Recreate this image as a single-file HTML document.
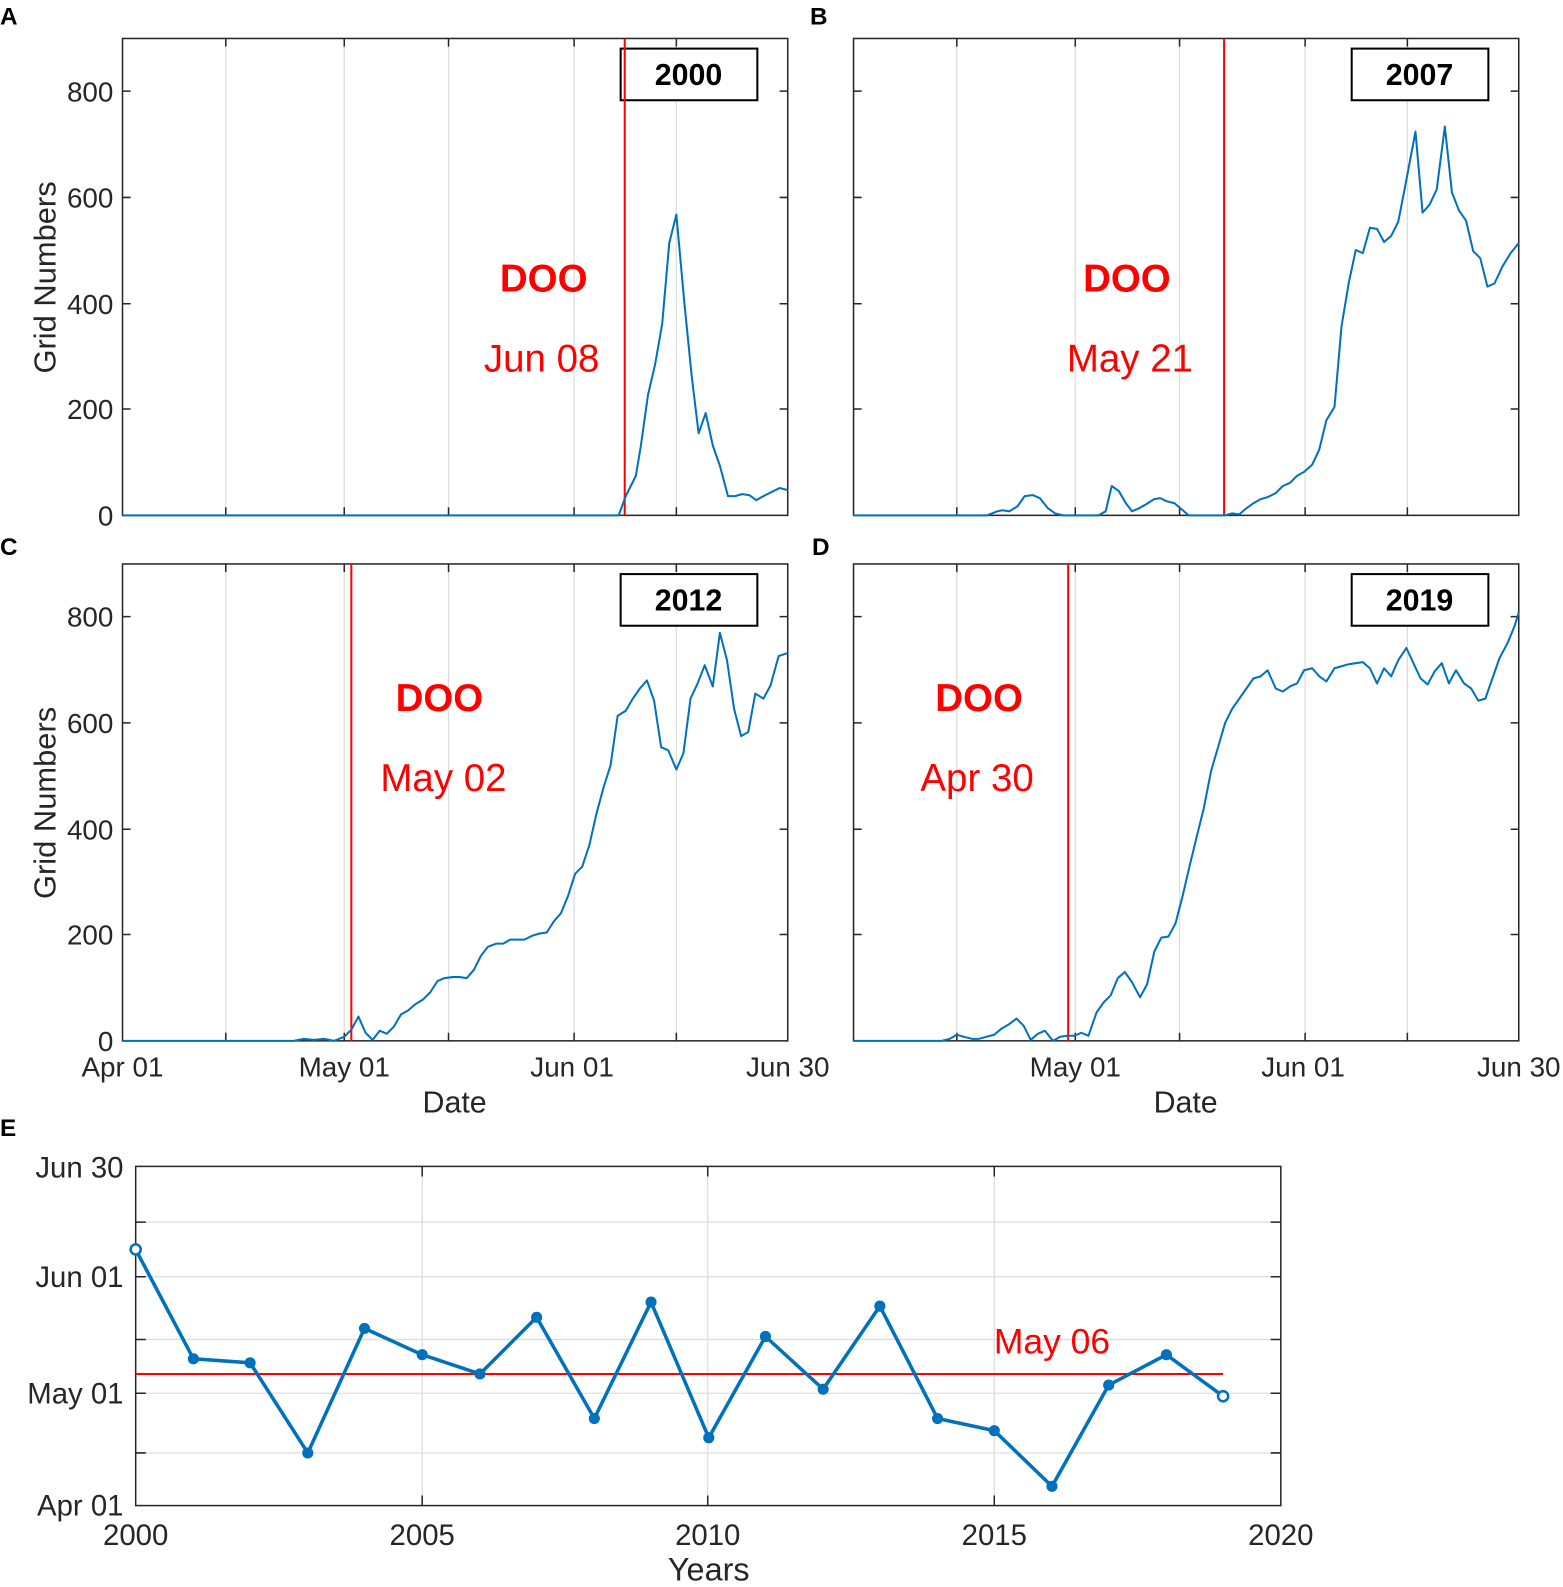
<!DOCTYPE html>
<html><head><meta charset="utf-8"><style>html,body{margin:0;padding:0;background:#fff;overflow:hidden;width:1563px;height:1587px}svg{display:block}</style></head><body>
<svg width="1563" height="1587" viewBox="0 0 1563 1587" xmlns="http://www.w3.org/2000/svg" font-family="Liberation Sans, Arial, sans-serif">
<g transform="scale(1.0125)">
<g stroke="#dcdcdc" stroke-width="1.2">
<line x1="223" y1="38" x2="223" y2="509"/><line x1="340" y1="38" x2="340" y2="509"/><line x1="443" y1="38" x2="443" y2="509"/><line x1="567" y1="38" x2="567" y2="509"/><line x1="668" y1="38" x2="668" y2="509"/>
<line x1="945" y1="38" x2="945" y2="509"/><line x1="1062" y1="38" x2="1062" y2="509"/><line x1="1165" y1="38" x2="1165" y2="509"/><line x1="1289" y1="38" x2="1289" y2="509"/><line x1="1390" y1="38" x2="1390" y2="509"/>
<line x1="223" y1="557" x2="223" y2="1028"/><line x1="340" y1="557" x2="340" y2="1028"/><line x1="443" y1="557" x2="443" y2="1028"/><line x1="567" y1="557" x2="567" y2="1028"/><line x1="668" y1="557" x2="668" y2="1028"/>
<line x1="945" y1="557" x2="945" y2="1028"/><line x1="1062" y1="557" x2="1062" y2="1028"/><line x1="1165" y1="557" x2="1165" y2="1028"/><line x1="1289" y1="557" x2="1289" y2="1028"/><line x1="1390" y1="557" x2="1390" y2="1028"/>
<line x1="417" y1="1152" x2="417" y2="1487"/><line x1="699" y1="1152" x2="699" y2="1487"/><line x1="982" y1="1152" x2="982" y2="1487"/>
<line x1="134" y1="1207" x2="1265" y2="1207"/><line x1="134" y1="1261" x2="1265" y2="1261"/><line x1="134" y1="1323" x2="1265" y2="1323"/><line x1="134" y1="1376" x2="1265" y2="1376"/><line x1="134" y1="1435" x2="1265" y2="1435"/>
</g>
<g fill="none" stroke="#262626" stroke-width="1.5">
<rect x="121" y="38" width="657" height="471"/><rect x="843" y="38" width="657" height="471"/>
<rect x="121" y="557" width="657" height="471"/><rect x="843" y="557" width="657" height="471"/>
<rect x="134" y="1152" width="1131" height="335"/>
<path d="M121 90h8M121 195h8M121 300h8M121 404h8M770 90h8M770 195h8M770 300h8M770 404h8M843 90h8M843 195h8M843 300h8M843 404h8M1492 90h8M1492 195h8M1492 300h8M1492 404h8"/>
<path d="M121 609h8M121 714h8M121 819h8M121 923h8M770 609h8M770 714h8M770 819h8M770 923h8M843 609h8M843 714h8M843 819h8M843 923h8M1492 609h8M1492 714h8M1492 819h8M1492 923h8"/>
<path d="M223 38v8M340 38v8M443 38v8M567 38v8M668 38v8M223 509v-8M340 509v-8M443 509v-8M567 509v-8M668 509v-8"/>
<path d="M945 38v8M1062 38v8M1165 38v8M1289 38v8M1390 38v8M945 509v-8M1062 509v-8M1165 509v-8M1289 509v-8M1390 509v-8"/>
<path d="M223 557v8M340 557v8M443 557v8M567 557v8M668 557v8M223 1028v-8M340 1028v-8M443 1028v-8M567 1028v-8M668 1028v-8"/>
<path d="M945 557v8M1062 557v8M1165 557v8M1289 557v8M1390 557v8M945 1028v-8M1062 1028v-8M1165 1028v-8M1289 1028v-8M1390 1028v-8"/>
<path d="M134 1207h10M134 1261h10M134 1323h10M134 1376h10M134 1435h10M1265 1207h-10M1265 1261h-10M1265 1323h-10M1265 1376h-10M1265 1435h-10M417 1487v-10M699 1487v-10M982 1487v-10M417 1152v10M699 1152v10M982 1152v10"/>
</g>
<g fill="#fff" stroke="#000" stroke-width="2"><rect x="613" y="48" width="135" height="51"/><rect x="1335" y="48" width="135" height="51"/><rect x="613" y="567" width="135" height="51"/><rect x="1335" y="567" width="135" height="51"/></g>
<g font-weight="bold" font-size="30" text-anchor="middle"><text x="680" y="84">2000</text><text x="1402" y="84">2007</text><text x="680" y="603">2012</text><text x="1402" y="603">2019</text></g>
<g font-weight="bold" font-size="24"><text x="0" y="24">A</text><text x="800" y="24">B</text><text x="0" y="548">C</text><text x="802" y="548">D</text><text x="0" y="1122">E</text></g>
<g font-size="27.5" fill="#262626" text-anchor="end">
<text x="112" y="100">800</text><text x="112" y="205">600</text><text x="112" y="310">400</text><text x="112" y="414">200</text><text x="112" y="519">0</text>
<text x="112" y="619">800</text><text x="112" y="724">600</text><text x="112" y="829">400</text><text x="112" y="933">200</text><text x="112" y="1038">0</text>
</g>
<g font-size="29" fill="#262626" text-anchor="end">
<text x="122" y="1163">Jun 30</text><text x="122" y="1271">Jun 01</text><text x="122" y="1386">May 01</text><text x="122" y="1497">Apr 01</text>
</g>
<g font-size="27.5" fill="#262626" text-anchor="middle">
<text x="121" y="1063">Apr 01</text><text x="340" y="1063">May 01</text><text x="565" y="1063">Jun 01</text><text x="778" y="1063">Jun 30</text>
<text x="1062" y="1063">May 01</text><text x="1287" y="1063">Jun 01</text><text x="1500" y="1063">Jun 30</text>
<text x="449" y="1099" font-size="30">Date</text><text x="1171" y="1099" font-size="30">Date</text>
<text transform="translate(55,274) rotate(-90)" font-size="30.5">Grid Numbers</text>
<text transform="translate(55,793) rotate(-90)" font-size="30.5">Grid Numbers</text>
</g>
<g font-size="29" fill="#262626" text-anchor="middle">
<text x="134" y="1526">2000</text><text x="417" y="1526">2005</text><text x="699" y="1526">2010</text><text x="982" y="1526">2015</text><text x="1265" y="1526">2020</text>
<text x="700" y="1561" font-size="32">Years</text>
</g>
<g fill="#ff0000" text-anchor="middle">
<text x="537" y="288" font-size="38" font-weight="bold">DOO</text><text x="535" y="367" font-size="38">Jun 08</text>
<text x="1113" y="288" font-size="38" font-weight="bold">DOO</text><text x="1116" y="367" font-size="38">May 21</text>
<text x="434" y="702" font-size="38" font-weight="bold">DOO</text><text x="438" y="781" font-size="38">May 02</text>
<text x="967" y="702" font-size="38" font-weight="bold">DOO</text><text x="965" y="781" font-size="38">Apr 30</text>
<text x="1039" y="1337" font-size="35">May 06</text>
</g>
<g stroke="#ff0000" stroke-width="2"><line x1="617" y1="38" x2="617" y2="509"/><line x1="1209" y1="38" x2="1209" y2="509"/><line x1="347" y1="557" x2="347" y2="1028"/><line x1="1055" y1="557" x2="1055" y2="1028"/><line x1="134" y1="1357" x2="1208" y2="1357"/></g>
<g fill="none" stroke="#0072bd" stroke-width="2" stroke-linejoin="round">
<polyline points="121,509 611,509 618,490 628,470 633,440 640,390 647,360 654,320 661,240 668,212 676,300 683,370 690,428 697,408 704,440 711,460 719,490 726,490 733,488 740,489 747,494 754,490 762,486 770,482 778,484"/>
<polyline points="843,509 975,509 985,505 990,504 997,505 1005,500 1012,490 1020,489 1027,492 1035,502 1042,507 1050,509 1085,509 1092,505 1098,480 1105,485 1112,497 1118,505 1125,502 1132,498 1140,493 1146,492 1152,495 1160,497 1167,503 1174,509 1210,509 1217,507 1224,508 1231,502 1238,497 1245,493 1252,491 1260,487 1267,480 1274,477 1281,470 1288,466 1296,459 1303,444 1310,415 1318,402 1325,322 1332,280 1339,247 1346,250 1353,225 1360,226 1367,239 1374,233 1381,219 1388,183 1398,130 1405,210 1412,202 1419,187 1427,125 1434,190 1441,208 1448,218 1455,248 1462,255 1469,283 1476,280 1484,263 1492,250 1500,240"/>
<polyline points="121,1028 290,1028 300,1026 310,1027 320,1026 330,1028 340,1024 347,1017 354,1004 361,1020 368,1027 375,1018 382,1021 389,1014 396,1002 403,998 410,992 418,987 425,980 432,969 439,966 447,965 454,965 461,966 468,958 475,944 482,935 490,932 497,932 504,928 511,928 518,928 526,924 533,922 540,921 547,910 554,902 561,885 568,863 575,856 582,835 589,804 596,778 603,756 610,707 618,702 625,690 632,680 639,672 646,692 653,738 660,741 668,760 675,744 682,690 689,675 696,657 704,678 711,625 718,652 725,700 732,727 739,723 746,685 754,690 761,677 769,648 778,645"/>
<polyline points="843,1028 930,1028 938,1026 945,1022 952,1024 960,1026 967,1026 974,1024 982,1022 989,1016 996,1012 1004,1006 1011,1013 1018,1027 1025,1021 1032,1018 1040,1028 1047,1024 1054,1023 1061,1023 1068,1020 1075,1023 1083,1000 1090,990 1097,983 1104,966 1111,960 1118,970 1126,985 1133,972 1140,940 1147,926 1154,925 1161,912 1168,885 1175,855 1182,826 1189,798 1196,762 1203,738 1210,714 1217,700 1224,690 1231,680 1238,670 1245,668 1252,662 1260,680 1267,683 1274,678 1281,675 1288,662 1296,660 1303,668 1310,673 1318,660 1325,658 1332,656 1339,655 1346,654 1353,660 1360,675 1367,660 1374,668 1381,652 1389,640 1396,655 1403,670 1410,676 1417,663 1424,655 1431,675 1438,662 1446,675 1453,680 1460,692 1467,690 1474,670 1481,650 1489,635 1496,618 1500,605"/>
<polyline stroke-width="3.5" points="134,1234 191,1342 247,1346 304,1435 360,1312 417,1338 474,1357 530,1301 587,1401 643,1286 700,1420 756,1320 813,1372 869,1290 926,1401 982,1413 1039,1468 1095,1368 1152,1338 1208,1379"/>
</g>
<g fill="#0072bd">
<circle cx="191" cy="1342" r="5.5"/><circle cx="247" cy="1346" r="5.5"/><circle cx="304" cy="1435" r="5.5"/><circle cx="360" cy="1312" r="5.5"/><circle cx="417" cy="1338" r="5.5"/><circle cx="474" cy="1357" r="5.5"/><circle cx="530" cy="1301" r="5.5"/><circle cx="587" cy="1401" r="5.5"/><circle cx="643" cy="1286" r="5.5"/><circle cx="700" cy="1420" r="5.5"/><circle cx="756" cy="1320" r="5.5"/><circle cx="813" cy="1372" r="5.5"/><circle cx="869" cy="1290" r="5.5"/><circle cx="926" cy="1401" r="5.5"/><circle cx="982" cy="1413" r="5.5"/><circle cx="1039" cy="1468" r="5.5"/><circle cx="1095" cy="1368" r="5.5"/><circle cx="1152" cy="1338" r="5.5"/>
</g>
<g fill="#fff" stroke="#0072bd" stroke-width="2.5"><circle cx="134" cy="1234" r="5"/><circle cx="1208" cy="1379" r="5"/></g>
</g>
</svg>
</body></html>
